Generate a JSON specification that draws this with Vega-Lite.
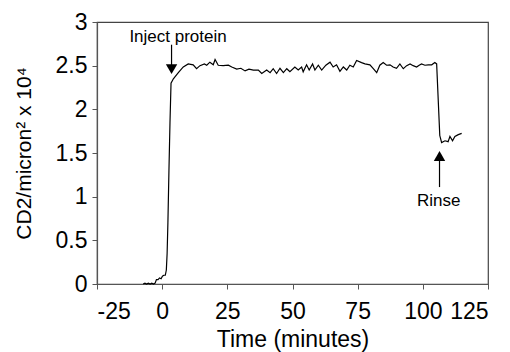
{
  "$schema": "https://vega.github.io/schema/vega-lite/v6.json",
  "width": 391,
  "height": 262,
  "autosize": {"type": "none"},
  "padding": {"left": 97, "top": 22, "right": 22, "bottom": 68},
  "background": "white",
  "config": {
    "font": "Liberation Sans",
    "view": {"stroke": "#444", "strokeWidth": 1.2},
    "axis": {
      "domainColor": "#555",
      "domainWidth": 1.2,
      "tickColor": "#555",
      "tickSize": 5,
      "grid": false,
      "labelFont": "Liberation Sans",
      "labelFontSize": 23,
      "labelColor": "black",
      "titleFont": "Liberation Sans",
      "titleFontSize": 23,
      "titleFontWeight": "normal",
      "titleColor": "black"
    }
  },
  "datasets": {
    "series": [
      {"t": -7.3, "v": 0.0}, {"t": -6.6, "v": 0.01}, {"t": -6.0, "v": 0.0}, {"t": -5.3, "v": 0.01},
      {"t": -4.6, "v": 0.0}, {"t": -4.0, "v": 0.01}, {"t": -3.3, "v": 0.0}, {"t": -2.7, "v": 0.01},
      {"t": -2.2, "v": 0.05}, {"t": -1.6, "v": 0.05}, {"t": -1.0, "v": 0.07}, {"t": -0.4, "v": 0.06},
      {"t": 0.1, "v": 0.09}, {"t": 0.6, "v": 0.1}, {"t": 1.2, "v": 0.1}, {"t": 1.6, "v": 0.16},
      {"t": 1.9, "v": 0.35}, {"t": 2.2, "v": 0.7}, {"t": 2.6, "v": 1.3}, {"t": 3.0, "v": 1.85},
      {"t": 3.4, "v": 2.3}, {"t": 4.3, "v": 2.35}, {"t": 6.2, "v": 2.42}, {"t": 8.1, "v": 2.485},
      {"t": 10.0, "v": 2.52}, {"t": 11.9, "v": 2.51}, {"t": 13.2, "v": 2.465}, {"t": 14.5, "v": 2.5},
      {"t": 16.2, "v": 2.52}, {"t": 17.1, "v": 2.505}, {"t": 18.3, "v": 2.54}, {"t": 19.6, "v": 2.51},
      {"t": 20.3, "v": 2.57}, {"t": 21.5, "v": 2.505}, {"t": 23.4, "v": 2.5}, {"t": 25.4, "v": 2.505},
      {"t": 26.7, "v": 2.485}, {"t": 28.6, "v": 2.46}, {"t": 30.2, "v": 2.47}, {"t": 31.8, "v": 2.44},
      {"t": 33.3, "v": 2.46}, {"t": 35.0, "v": 2.45}, {"t": 36.9, "v": 2.45}, {"t": 38.2, "v": 2.41},
      {"t": 40.1, "v": 2.45}, {"t": 41.4, "v": 2.42}, {"t": 42.6, "v": 2.465}, {"t": 43.9, "v": 2.41},
      {"t": 45.2, "v": 2.47}, {"t": 46.5, "v": 2.42}, {"t": 47.8, "v": 2.465}, {"t": 49.0, "v": 2.43},
      {"t": 50.9, "v": 2.485}, {"t": 52.2, "v": 2.45}, {"t": 53.5, "v": 2.485}, {"t": 54.1, "v": 2.43},
      {"t": 55.4, "v": 2.51}, {"t": 56.4, "v": 2.45}, {"t": 57.7, "v": 2.52}, {"t": 58.6, "v": 2.45},
      {"t": 59.9, "v": 2.505}, {"t": 61.2, "v": 2.45}, {"t": 62.8, "v": 2.505}, {"t": 64.4, "v": 2.54},
      {"t": 65.6, "v": 2.485}, {"t": 66.9, "v": 2.51}, {"t": 68.2, "v": 2.435}, {"t": 69.5, "v": 2.485},
      {"t": 70.8, "v": 2.45}, {"t": 72.0, "v": 2.505}, {"t": 73.3, "v": 2.485}, {"t": 74.6, "v": 2.56},
      {"t": 76.5, "v": 2.535}, {"t": 77.8, "v": 2.52}, {"t": 79.7, "v": 2.51}, {"t": 81.0, "v": 2.465},
      {"t": 82.3, "v": 2.42}, {"t": 83.5, "v": 2.505}, {"t": 84.8, "v": 2.535}, {"t": 86.1, "v": 2.505},
      {"t": 87.4, "v": 2.51}, {"t": 88.6, "v": 2.485}, {"t": 89.9, "v": 2.47}, {"t": 91.2, "v": 2.52},
      {"t": 92.5, "v": 2.465}, {"t": 93.8, "v": 2.5}, {"t": 95.1, "v": 2.52}, {"t": 96.3, "v": 2.5},
      {"t": 97.6, "v": 2.485}, {"t": 98.6, "v": 2.505}, {"t": 99.5, "v": 2.52}, {"t": 100.8, "v": 2.505},
      {"t": 102.1, "v": 2.51}, {"t": 103.4, "v": 2.51}, {"t": 104.6, "v": 2.535}, {"t": 105.3, "v": 2.52},
      {"t": 106.5, "v": 1.7}, {"t": 107.2, "v": 1.62}, {"t": 108.5, "v": 1.64}, {"t": 109.7, "v": 1.63},
      {"t": 110.4, "v": 1.69}, {"t": 111.4, "v": 1.64}, {"t": 112.3, "v": 1.69}, {"t": 113.6, "v": 1.71},
      {"t": 114.9, "v": 1.725}
    ],
    "shafts": [
      {"t": 3.6, "v1": 2.74, "v2": 2.5},
      {"t": 106.4, "v1": 1.11, "v2": 1.44}
    ],
    "downHeads": [{"t": 3.6, "v": 2.46}],
    "upHeads": [{"t": 106.4, "v": 1.466}],
    "labels": [
      {"t": 6.1, "v": 2.83, "label": "Inject protein"},
      {"t": 106.1, "v": 0.95, "label": "Rinse"}
    ]
  },
  "layer": [
    {
      "data": {"name": "series"},
      "mark": {"type": "line", "color": "black", "strokeWidth": 1.2},
      "encoding": {
        "x": {
          "field": "t", "type": "quantitative",
          "scale": {"domain": [-25, 125], "nice": false},
          "axis": {
            "values": [-25, 0, 25, 50, 75, 100, 125],
            "labelExpr": "datum.value < 0 ? '-' + abs(datum.value) : '' + datum.value",
            "title": "Time (minutes)", "labelPadding": 11, "titlePadding": 5
          }
        },
        "y": {
          "field": "v", "type": "quantitative",
          "scale": {"domain": [0, 3], "nice": false},
          "axis": {
            "values": [0, 0.5, 1, 1.5, 2, 2.5, 3],
            "labelExpr": "'' + datum.value",
            "title": "CD2/micron² x 10⁴", "titleFontSize": 21, "labelPadding": 5, "titlePadding": 21
          }
        }
      }
    },
    {
      "data": {"name": "shafts"},
      "mark": {"type": "rule", "color": "black", "strokeWidth": 1.2},
      "encoding": {
        "x": {"field": "t", "type": "quantitative"},
        "y": {"field": "v1", "type": "quantitative"},
        "y2": {"field": "v2"}
      }
    },
    {
      "data": {"name": "downHeads"},
      "mark": {"type": "point", "shape": "triangle-down", "filled": true, "color": "black", "size": 130, "opacity": 1},
      "encoding": {
        "x": {"field": "t", "type": "quantitative"},
        "y": {"field": "v", "type": "quantitative"}
      }
    },
    {
      "data": {"name": "upHeads"},
      "mark": {"type": "point", "shape": "triangle-up", "filled": true, "color": "black", "size": 130, "opacity": 1},
      "encoding": {
        "x": {"field": "t", "type": "quantitative"},
        "y": {"field": "v", "type": "quantitative"}
      }
    },
    {
      "data": {"name": "labels"},
      "mark": {"type": "text", "font": "Liberation Sans", "fontSize": 17, "color": "black", "align": "center", "baseline": "middle"},
      "encoding": {
        "x": {"field": "t", "type": "quantitative"},
        "y": {"field": "v", "type": "quantitative"},
        "text": {"field": "label"}
      }
    }
  ]
}
